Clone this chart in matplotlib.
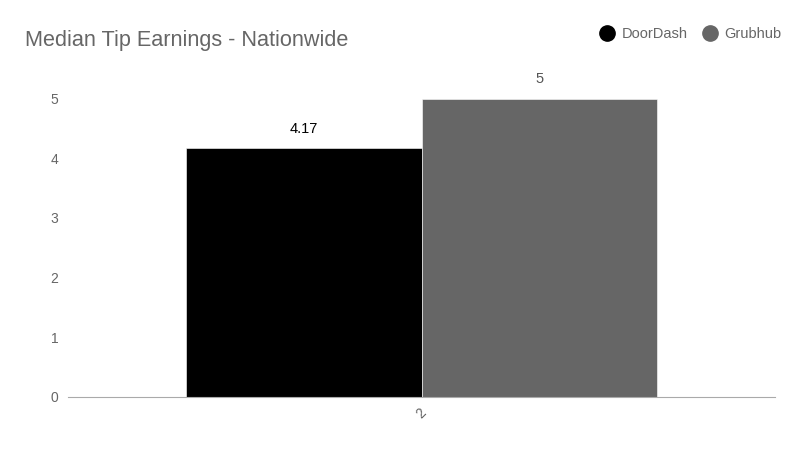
import numpy as np
import matplotlib
matplotlib.use("Agg")
import matplotlib.pyplot as plt
from matplotlib.lines import Line2D

plt.rcParams['font.family'] = ['Liberation Sans', 'DejaVu Sans']

categories = ["2"]
series = ["DoorDash", "Grubhub"]
doordash = [4.17]
grubhub = [5]
label_text = ["4.17", "5"]
colors = ["#000000", "#666666"]
label_colors = ["#000000", "#555555"]

fig = plt.figure(figsize=(8, 4.5), dpi=100)
ax = fig.add_axes([0.085, 0.118, 0.884, 0.663])

x = np.arange(len(categories))
w = 0.333
vals = [doordash, grubhub]
offs = [-w / 2, w / 2]
for i in range(2):
    bars = ax.bar(x + offs[i], vals[i], width=w, color=colors[i], edgecolor="white", linewidth=0.4)
    for b, t in zip(bars, label_text[i:i + 1]):
        ax.annotate(t, (b.get_x() + b.get_width() / 2, b.get_height()),
                    xytext=(0, 9), textcoords="offset points", ha="center", va="bottom",
                    fontsize=10.5, color=label_colors[i], annotation_clip=False)

ax.set_xlim(-0.5, 0.5)
ax.set_ylim(0, 5)
ax.set_yticks([0, 1, 2, 3, 4, 5])
ax.set_xticks(x)
ax.set_xticklabels(categories, rotation=45, fontsize=10, color="#666666")
for s in ["top", "right", "left"]:
    ax.spines[s].set_visible(False)
ax.spines["bottom"].set_color("#aaaaaa")
ax.tick_params(axis="y", length=0, labelsize=10, labelcolor="#666666", pad=7)
ax.tick_params(axis="x", length=0, pad=6)

fig.text(0.031, 0.91, "Median Tip Earnings - Nationwide", fontsize=15.6, color="#666666", va="center")

handles = [Line2D([], [], marker="o", linestyle="", markersize=11, color=c) for c in colors]
fig.legend(handles, series, loc="center right", bbox_to_anchor=(0.993, 0.924), ncol=2, frameon=False,
           fontsize=10.5, labelcolor="#666666", handletextpad=0.4, columnspacing=0.9, handlelength=1.2)

fig.savefig("out.png", dpi=100)
